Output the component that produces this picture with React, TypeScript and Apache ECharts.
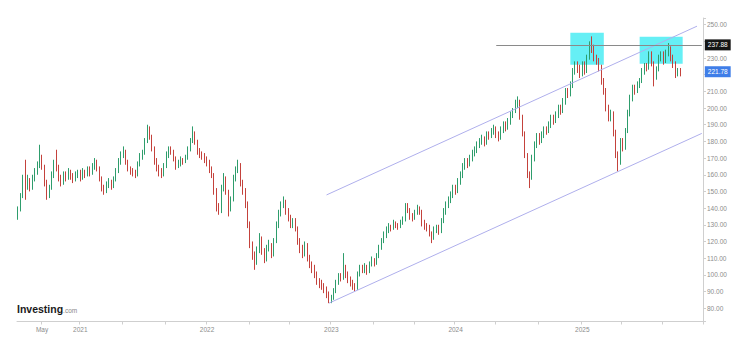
import { useEffect, useRef } from "react";
import * as echarts from "echarts";

// weekly candles: [open, close, low, high]
const candles: [number, number, number, number][] = [
  [135, 139, 133, 141], [139, 147, 138, 149], [147, 158, 146, 160], [158, 154, 145, 169], [154, 156, 151, 160],
  [156, 152, 150, 158], [152, 158, 151, 160], [158, 162, 156, 164], [162, 166, 160, 168], [166, 170, 164, 178],
  [170, 165, 163, 172], [165, 155, 153, 166], [155, 147, 145, 157], [147, 152, 146, 154], [152, 160, 151, 162],
  [160, 167, 158, 169], [167, 165, 162, 175], [165, 158, 156, 166], [158, 155, 153, 160], [155, 160, 154, 162],
  [160, 158, 156, 162], [158, 162, 157, 164], [162, 159, 157, 163], [159, 157, 155, 161], [157, 160, 156, 162],
  [160, 161, 158, 163], [161, 158, 156, 163], [158, 162, 157, 164], [162, 160, 158, 163], [160, 163, 159, 165],
  [163, 161, 159, 165], [161, 165, 160, 167], [165, 168, 163, 170], [168, 164, 162, 169], [164, 158, 156, 165],
  [158, 152, 150, 159], [152, 150, 148, 154], [150, 154, 149, 156], [154, 156, 152, 158], [156, 153, 151, 157],
  [153, 157, 152, 159], [157, 162, 156, 164], [162, 168, 161, 170], [168, 172, 166, 174], [172, 174, 170, 177],
  [174, 168, 166, 175], [168, 164, 162, 169], [164, 162, 160, 165], [162, 161, 159, 164], [161, 160, 158, 163],
  [160, 166, 159, 168], [166, 171, 165, 173], [171, 173, 169, 175], [173, 180, 172, 182], [180, 187, 179, 190],
  [187, 183, 181, 189], [183, 176, 174, 184], [176, 168, 166, 177], [168, 164, 162, 170], [164, 162, 159, 166],
  [162, 160, 158, 164], [160, 165, 159, 167], [165, 172, 164, 174], [172, 175, 170, 177], [175, 174, 172, 177],
  [174, 170, 168, 175], [170, 165, 163, 171], [165, 167, 164, 169], [167, 169, 165, 171], [169, 168, 166, 170],
  [168, 170, 167, 172], [170, 175, 169, 177], [175, 180, 174, 182], [180, 185, 179, 189], [185, 180, 178, 186],
  [180, 174, 172, 181], [174, 172, 170, 176], [172, 171, 169, 174], [171, 169, 167, 173], [169, 168, 165, 171],
  [168, 163, 161, 169], [163, 160, 158, 165], [160, 150, 148, 161], [150, 140, 138, 152], [140, 138, 136, 143],
  [138, 152, 137, 154], [152, 158, 150, 161], [158, 150, 148, 159], [150, 140, 135, 151], [140, 145, 138, 147],
  [145, 158, 144, 160], [158, 163, 156, 165], [163, 166, 161, 169], [166, 155, 153, 167], [155, 150, 148, 157],
  [150, 142, 140, 152], [142, 130, 128, 144], [130, 118, 116, 132], [118, 112, 109, 120], [112, 108, 103, 114],
  [108, 115, 106, 117], [115, 122, 113, 125], [122, 114, 112, 123], [114, 110, 107, 116], [110, 116, 108, 118],
  [116, 118, 114, 121], [118, 112, 110, 119], [112, 120, 111, 122], [120, 130, 119, 132], [130, 137, 128, 139],
  [137, 142, 135, 144], [142, 144, 140, 147], [144, 138, 136, 145], [138, 134, 132, 140], [134, 130, 128, 136],
  [130, 132, 128, 134], [132, 128, 126, 134], [128, 120, 118, 129], [120, 116, 113, 122], [116, 112, 110, 118],
  [112, 118, 111, 120], [118, 110, 108, 119], [110, 106, 104, 112], [106, 104, 101, 108], [104, 100, 98, 106],
  [100, 96, 94, 102], [96, 95, 92, 98], [95, 93, 91, 97], [93, 91, 89, 95], [91, 88, 86, 93],
  [88, 85, 83, 90], [85, 86, 83, 88], [86, 90, 85, 92], [90, 95, 89, 97], [95, 99, 94, 101],
  [99, 98, 96, 101], [98, 104, 97, 113], [104, 100, 98, 106], [100, 97, 95, 102], [97, 95, 93, 99],
  [95, 93, 91, 97], [93, 92, 90, 95], [92, 100, 91, 102], [100, 104, 99, 106], [104, 103, 101, 106],
  [103, 105, 101, 107], [105, 102, 100, 106], [102, 106, 101, 108], [106, 109, 105, 111], [109, 107, 105, 110],
  [107, 111, 106, 113], [111, 116, 110, 118], [116, 120, 115, 122], [120, 124, 119, 126], [124, 127, 122, 129],
  [127, 129, 125, 131], [129, 128, 126, 130], [128, 131, 127, 133], [131, 130, 128, 132], [130, 129, 127, 131],
  [129, 131, 128, 133], [131, 133, 130, 135], [133, 141, 132, 143], [141, 139, 137, 143], [139, 135, 133, 140],
  [135, 134, 132, 137], [134, 137, 133, 139], [137, 140, 136, 142], [140, 138, 136, 141], [138, 131, 129, 139],
  [131, 129, 127, 133], [129, 128, 126, 131], [128, 125, 123, 130], [125, 122, 119, 126], [122, 127, 121, 129],
  [127, 128, 125, 130], [128, 126, 124, 130], [126, 132, 125, 134], [132, 138, 131, 140], [138, 142, 136, 144],
  [142, 145, 140, 147], [145, 148, 143, 150], [148, 152, 146, 154], [152, 150, 148, 154], [150, 156, 149, 158],
  [156, 160, 154, 162], [160, 165, 158, 167], [165, 168, 163, 170], [168, 166, 164, 170], [166, 170, 165, 172],
  [170, 173, 168, 175], [173, 175, 171, 177], [175, 178, 173, 180], [178, 180, 176, 182], [180, 182, 178, 184],
  [182, 179, 177, 183], [179, 184, 178, 186], [184, 183, 181, 186], [183, 186, 182, 188], [186, 188, 184, 190],
  [188, 184, 182, 189], [184, 182, 180, 186], [182, 187, 181, 189], [187, 190, 185, 192], [190, 188, 186, 192],
  [188, 192, 187, 194], [192, 196, 190, 198], [196, 198, 194, 200], [198, 203, 197, 205], [203, 204, 200, 207],
  [204, 195, 193, 205], [195, 185, 183, 196], [185, 172, 170, 186], [172, 160, 158, 173], [160, 158, 152, 162],
  [158, 170, 157, 172], [170, 178, 168, 180], [178, 183, 176, 185], [183, 180, 178, 185], [180, 184, 179, 186],
  [184, 187, 182, 189], [187, 186, 184, 189], [186, 190, 185, 192], [190, 194, 188, 196], [194, 192, 190, 196],
  [192, 196, 191, 198], [196, 200, 194, 202], [200, 198, 196, 202], [198, 204, 197, 206], [204, 210, 202, 212],
  [210, 208, 206, 212], [208, 214, 207, 216], [214, 222, 212, 224], [222, 226, 220, 228], [226, 224, 221, 228],
  [224, 220, 218, 226], [220, 226, 219, 228], [226, 222, 220, 228], [222, 230, 221, 232], [230, 238, 229, 240],
  [238, 236, 233, 243], [236, 230, 228, 238], [230, 228, 226, 232], [228, 224, 222, 230], [224, 216, 214, 226],
  [216, 210, 208, 218], [210, 200, 198, 212], [200, 194, 192, 202], [194, 197, 192, 199], [197, 185, 183, 198],
  [185, 172, 170, 187], [172, 168, 162, 174], [168, 180, 166, 182], [180, 176, 174, 182], [176, 186, 175, 188],
  [186, 197, 185, 199], [197, 206, 195, 208], [206, 212, 204, 214], [212, 210, 208, 214], [210, 214, 209, 216],
  [214, 216, 212, 218], [216, 222, 215, 224], [222, 225, 220, 227], [225, 224, 222, 227], [224, 232, 223, 234],
  [232, 227, 225, 234], [227, 218, 213, 228], [218, 223, 217, 225], [223, 230, 222, 232], [230, 232, 228, 234],
  [232, 228, 226, 234], [228, 233, 227, 235], [233, 236, 231, 239], [236, 230, 228, 237], [230, 226, 224, 232],
  [226, 220, 218, 228], [220, 222, 219, 224], [222, 221.78, 219, 224],
];

const totalWeeks = 287;
const startDate = Date.UTC(2020, 5, 15);
const categories: string[] = Array.from({ length: totalWeeks }, (_, i) =>
  new Date(startDate + i * 7 * 86400000).toISOString().slice(0, 10)
);

const xTickLabels: Record<number, string> = { 10: "May", 26: "2021", 79: "2022", 131: "2023", 183: "2024", 236: "2025" };
const xTickIdx = [10, 26, 44, 62, 79, 97, 114, 131, 149, 166, 183, 200, 218, 236, 253, 270];

const resistance = 237.88;
const lastPrice = 221.78;
const upperChannel: [number, number][] = [[129, 147.9], [284, 249.1]];
const lowerChannel: [number, number][] = [[130, 83.0], [286, 184.8]];
const zones: [[number, number], [number, number]][] = [
  [[231, 245.2], [245, 226.0]],
  [[260, 242.8], [278, 226.6]],
];
const resistanceFrom = 200;
const hiddenYLabels = [220, 240];

export default function App() {
  const ref = useRef<HTMLDivElement>(null);
  useEffect(() => {
    const chart = echarts.init(ref.current!, null, { renderer: "svg" });
    const tickSet = new Set(xTickIdx);
    chart.setOption({
      animation: false,
      backgroundColor: "#ffffff",
      textStyle: { fontFamily: "Liberation Sans, Arial, sans-serif" },
      grid: { left: 17, right: 42, top: 18, height: 303.5 },
      xAxis: {
        type: "category",
        data: categories,
        boundaryGap: true,
        axisLine: { lineStyle: { color: "#cfcfcf", width: 1 } },
        axisTick: { show: true, length: 3, lineStyle: { color: "#cfcfcf" }, interval: (i: number) => tickSet.has(i) },
        axisLabel: {
          interval: (i: number) => xTickLabels[i] !== undefined,
          formatter: (_v: string, i: number) => xTickLabels[i] ?? "",
          fontSize: 6.5,
          color: "#8c8c8c",
          margin: 4,
        },
        splitLine: { show: false },
      },
      yAxis: {
        type: "value",
        position: "right",
        min: 72,
        max: 254,
        splitNumber: 18,
        minInterval: 10,
        maxInterval: 10,
        scale: true,
        axisLine: { show: true, lineStyle: { color: "#cfcfcf" } },
        axisTick: { show: true, length: 3, lineStyle: { color: "#cfcfcf" } },
        axisLabel: {
          fontSize: 6.5,
          color: "#8c8c8c",
          margin: 4,
          formatter: (v: number) =>
            v % 10 === 0 && v >= 80 && v <= 250 && !hiddenYLabels.includes(v) ? v.toFixed(2) : "",
        },
        splitLine: { show: false },
      },
      series: [
        {
          type: "candlestick",
          data: candles,
          itemStyle: { color: "#2e9d6c", color0: "#c4423c", borderColor: "#2e9d6c", borderColor0: "#c4423c", borderWidth: 1 },
          markArea: {
            silent: true,
            itemStyle: { color: "rgba(0,229,238,0.6)" },
            data: zones.map(([a, b]) => [{ coord: a }, { coord: b }]),
          },
          markLine: {
            silent: true,
            symbol: ["none", "none"],
            data: [
              [
                {
                  coord: [resistanceFrom, resistance],
                  lineStyle: { color: "#8a8a8a", width: 1, type: "solid" },
                  label: {
                    show: true, position: "end", formatter: resistance.toFixed(2), color: "#fff",
                    backgroundColor: "#151515", fontSize: 6.5, padding: [2, 3], distance: 3,
                  },
                },
                { coord: [totalWeeks - 1, resistance] },
              ],
              [
                {
                  coord: [candles.length - 1, lastPrice],
                  lineStyle: { color: "rgba(255,255,255,0)", width: 1, type: "solid" },
                  label: {
                    show: true, position: "end", formatter: lastPrice.toFixed(2), color: "#fff",
                    backgroundColor: "#3f7ee8", fontSize: 6.5, padding: [2, 3], distance: 3,
                  },
                },
                { coord: [totalWeeks - 1, lastPrice] },
              ],
            ],
          },
        },
        {
          type: "line",
          data: upperChannel,
          symbol: "none",
          silent: true,
          lineStyle: { color: "#afafec", width: 1 },
        },
        {
          type: "line",
          data: lowerChannel,
          symbol: "none",
          silent: true,
          lineStyle: { color: "#afafec", width: 1 },
        },
      ],
      graphic: [
        {
          type: "text",
          left: 17,
          top: 303,
          style: {
            text: "{a|Investing}{b|.com}",
            rich: {
              a: { fontSize: 10.5, fontWeight: "bold", fill: "#1a1a1a", fontFamily: "Liberation Sans, Arial, sans-serif" },
              b: { fontSize: 6.5, fill: "#8a8a8a", fontFamily: "Liberation Sans, Arial, sans-serif", padding: [3, 0, 0, 0] },
            },
          },
        },
      ],
    });
    return () => chart.dispose();
  }, []);
  return <div ref={ref} style={{ position: "fixed", left: 0, top: 0, width: 745, height: 348 }} />;
}
